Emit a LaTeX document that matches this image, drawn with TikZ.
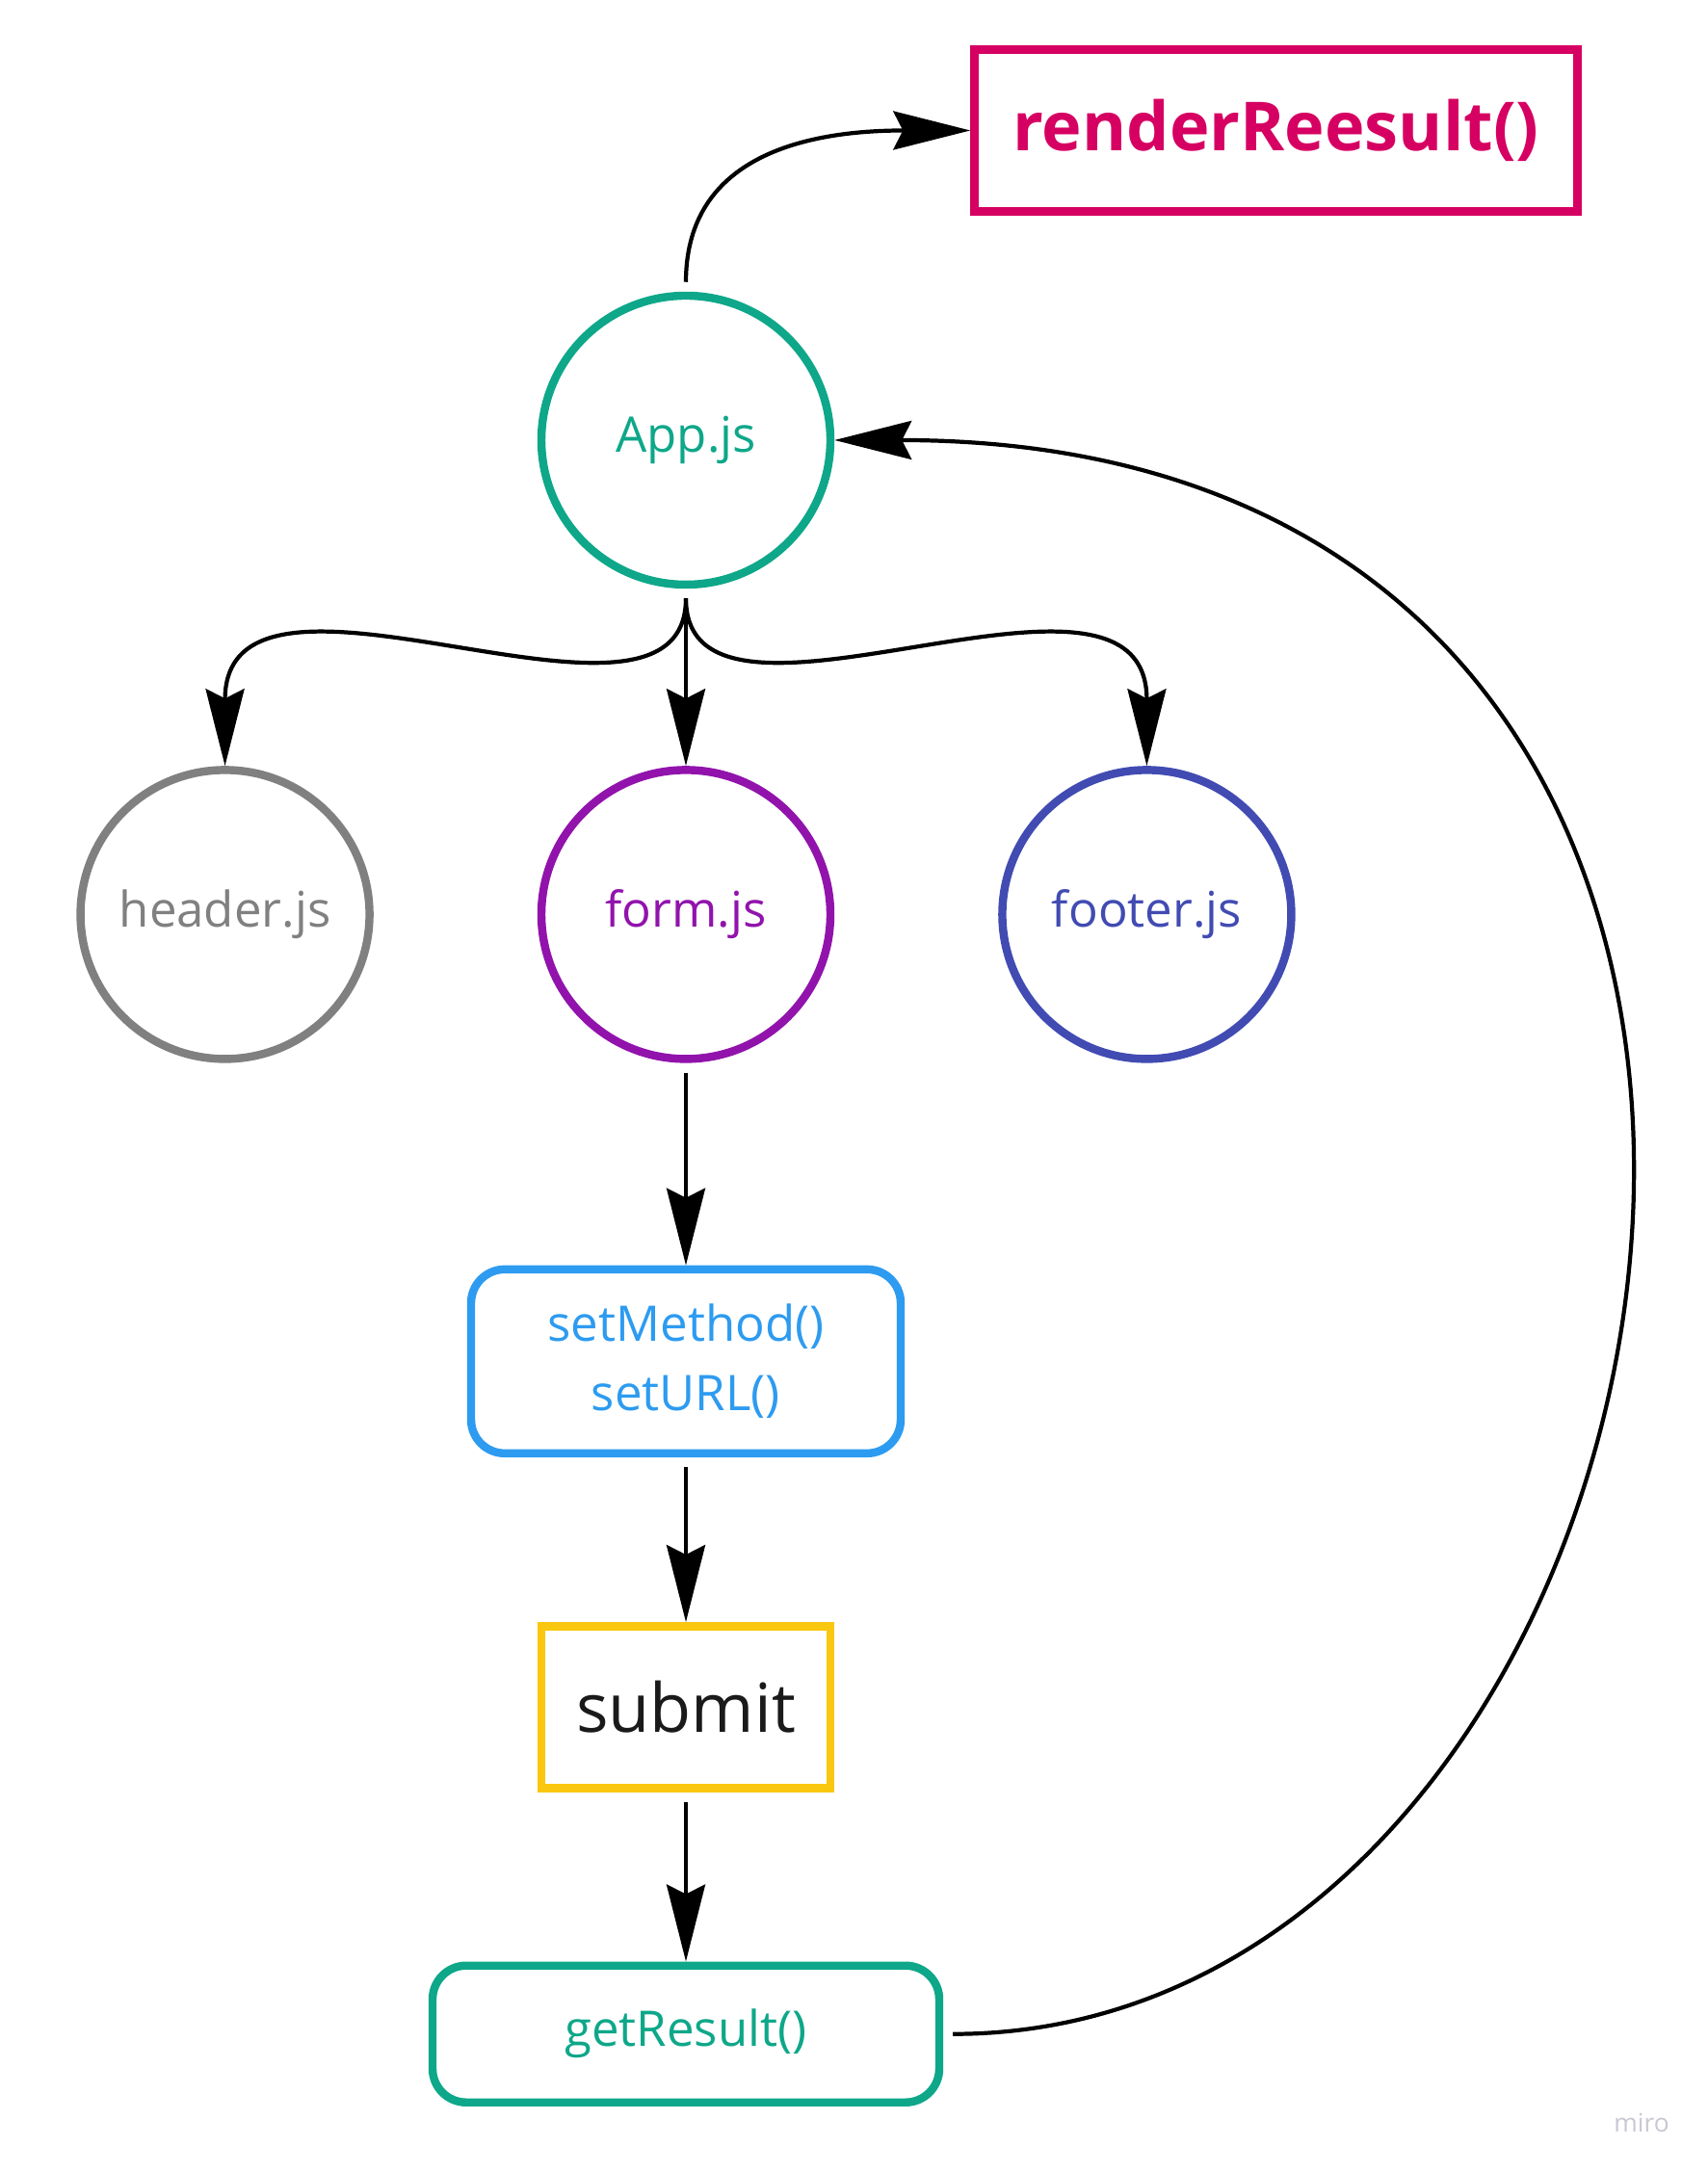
\documentclass[tikz,border=0pt]{standalone}
\usepackage{fontspec}
\setmainfont{Open Sans}
\usetikzlibrary{arrows.meta, positioning}
\definecolor{colTeal}{RGB}{14,167,137}
\definecolor{colMagenta}{RGB}{214,0,98}
\definecolor{colGray}{RGB}{128,128,128}
\definecolor{colPurple}{RGB}{145,19,172}
\definecolor{colIndigo}{RGB}{65,75,178}
\definecolor{colSky}{RGB}{45,155,240}
\definecolor{colYellow}{RGB}{250,199,16}
\definecolor{colInk}{RGB}{26,26,26}
\definecolor{colMark}{RGB}{200,200,210}
\tikzset{
    jsnode/.style={circle, line width=2.4pt, minimum size=3.0cm, inner sep=0pt,
        font=\fontsize{14.5}{17}\selectfont},
    funcbox/.style={rectangle, line width=2.4pt, align=center, inner sep=0pt,
        font=\fontsize{14.5}{20.5}\selectfont},
    arrow/.style={-{Stealth[length=8mm, width=4mm, inset=1mm]}, line width=1.2pt}
}

\begin{document}
\begin{tikzpicture}[node distance=1.8cm and 1.7cm]
    \useasboundingbox (0,0) rectangle (17.73,22.55);
    \node[jsnode, draw=colTeal, text=colTeal] (app) at (7.12,17.98) {App.js};
    \node[jsnode, draw=colPurple, text=colPurple, below=1.84cm of app] (form) {form.js};
    \node[jsnode, draw=colGray, text=colGray, left=of form] (header) {header.js};
    \node[jsnode, draw=colIndigo, text=colIndigo, right=of form] (footer) {footer.js};
    \node[funcbox, draw=colSky, text=colSky, rounded corners=0.35cm, minimum width=4.46cm, minimum height=1.91cm, below=2.1cm of form] (methods) {setMethod()\\setURL()};
    \node[funcbox, draw=colYellow, text=colInk, minimum width=3.0cm, minimum height=1.68cm, font=\fontsize{20}{24}\selectfont, below=1.71cm of methods] (submit) {submit};
    \node[funcbox, draw=colTeal, text=colTeal, rounded corners=0.35cm, minimum width=5.26cm, minimum height=1.42cm, below=1.76cm of submit] (result) {getResult()};
    \node[funcbox, draw=colMagenta, text=colMagenta, minimum width=6.26cm, minimum height=1.68cm, font=\fontsize{20}{24}\bfseries\selectfont] (render) at (13.245,21.195) {renderReesult()};
    \node[text=colMark, font=\fontsize{7.5}{9}\selectfont] (miro) at (17.04,0.51) {miro};

    \draw[arrow, shorten <=1mm] (app.north) .. controls +(0,1.3) and +(-1.9,0) .. (render.west);
    \draw[arrow, shorten <=1mm] (app.south) .. controls +(0,-1.9) and +(0,2.55) .. (header.north);
    \draw[arrow, shorten <=1mm] (app.south) -- (form.north);
    \draw[arrow, shorten <=1mm] (app.south) .. controls +(0,-1.9) and +(0,2.55) .. (footer.north);
    \draw[arrow, shorten <=1mm] (form.south) -- (methods.north);
    \draw[arrow, shorten <=1mm] (methods.south) -- (submit.north);
    \draw[arrow, shorten <=1mm] (submit.south) -- (result.north);
    \draw[arrow, shorten <=1mm] (result.east) .. controls +(8.2,0) and +(12.1,0) .. (app.east);
\end{tikzpicture}
\end{document}
